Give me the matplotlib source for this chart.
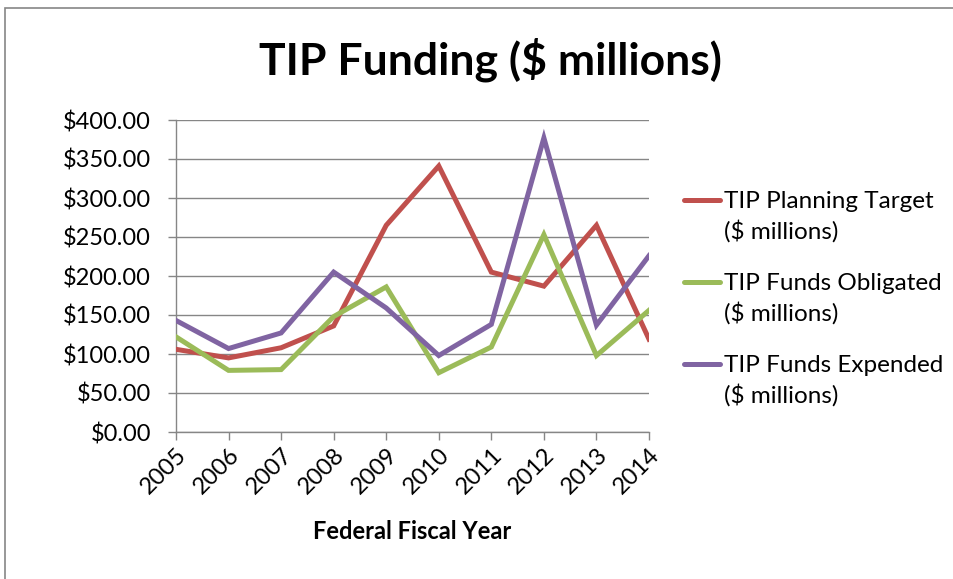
import matplotlib.pyplot as plt
from matplotlib.patches import Rectangle
from matplotlib.lines import Line2D
from matplotlib.ticker import FuncFormatter

years = ['2005', '2006', '2007', '2008', '2009', '2010', '2011', '2012', '2013', '2014']
planning_target = [106, 95, 108, 136, 265, 341, 205, 187, 265, 119]
funds_obligated = [122, 79, 80, 148, 186, 76, 109, 253, 98, 156]
funds_expended = [143, 107, 127, 205, 159, 98, 138, 377, 137, 226]

series_names = ['TIP Planning Target\n($ millions)',
                'TIP Funds Obligated\n($ millions)',
                'TIP Funds Expended\n($ millions)']
series_colors = ['#C0504D', '#9BBB59', '#8064A2']

plt.rcParams['font.family'] = ['Lato', 'DejaVu Sans']

fig = plt.figure(figsize=(9.54, 5.79), dpi=100)

# outer chart border (cropped on the right and bottom in the original)
fig.patches.append(Rectangle((5 / 954, -0.1), 1.2, 1 - 8 / 579 + 0.1,
                             transform=fig.transFigure, fill=False,
                             edgecolor='#868686', linewidth=1.2))

ax = fig.add_axes([176 / 954, 1 - 432 / 579, (649 - 176) / 954, (432 - 120) / 579])

x = list(range(len(years)))
for vals, color in zip([planning_target, funds_obligated, funds_expended], series_colors):
    ax.plot(x, vals, color=color, linewidth=3.6, solid_joinstyle='miter', zorder=3)

ax.set_xlim(0, len(years) - 1)
ax.set_ylim(0, 400)
ax.set_yticks(range(0, 401, 50))
ax.yaxis.set_major_formatter(FuncFormatter(lambda v, p: f'${v:.2f}'))
ax.set_xticks(x)
ax.set_xticklabels(years, rotation=45, ha='right', va='top', rotation_mode='anchor')

ax.grid(axis='y', color='#868686', linewidth=1.0)
ax.set_axisbelow(True)
for side in ['top', 'right']:
    ax.spines[side].set_visible(False)
for side in ['left', 'bottom']:
    ax.spines[side].set_color('#868686')
    ax.spines[side].set_linewidth(1.0)
ax.tick_params(axis='both', colors='#868686', labelcolor='black', labelsize=17,
               length=6, width=1.0)
ax.tick_params(axis='y', pad=12)
ax.tick_params(axis='x', pad=3)

ax.set_xlabel('Federal Fiscal Year', fontsize=17, fontweight='bold', labelpad=16)
fig.text(490 / 954, 1 - 60 / 579, 'TIP Funding ($ millions)', ha='center', va='center',
         fontsize=32, fontweight='bold')

# legend drawn by hand so the line sits beside the first text line
for i, (name, color) in enumerate(zip(series_names, series_colors)):
    y = 1 - (200 + 82 * i) / 579
    fig.lines.append(Line2D([684 / 954, 720 / 954], [y, y], transform=fig.transFigure,
                            color=color, linewidth=3.6, solid_capstyle='round'))
    fig.text(724 / 954, y + 9 / 579, name, ha='left', va='top', fontsize=17.5,
             linespacing=1.4)

fig.savefig('out.png', dpi=100)
